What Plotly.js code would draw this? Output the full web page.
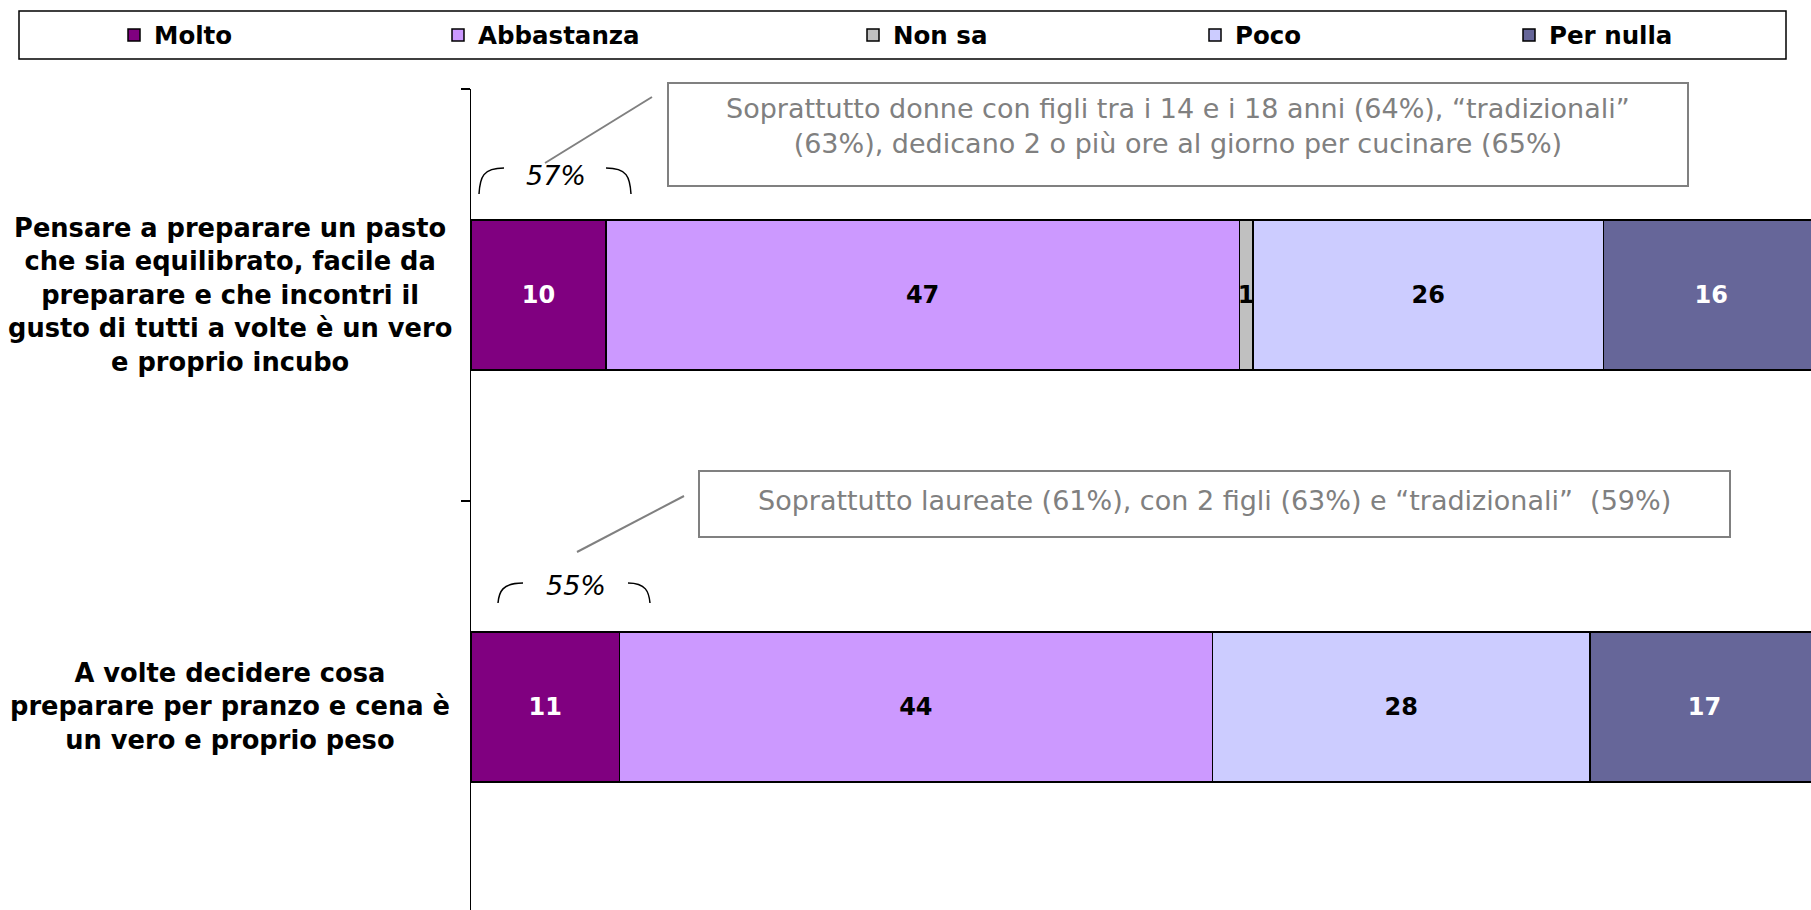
<!DOCTYPE html>
<html>
<head>
<meta charset="utf-8">
<script src="https://cdn.plot.ly/plotly-3.0.1.min.js"></script>
<style>html,body{margin:0;padding:0;background:#fff;}#chart{width:1811px;height:910px;}</style>
</head>
<body>
<div id="chart"></div>
<script>
// ---- data ----
const categories = [
  "Pensare a preparare un pasto<br>che sia equilibrato, facile da<br>preparare e che incontri il<br>gusto di tutti a volte è un vero<br>e proprio incubo",
  "A volte decidere cosa<br>preparare per pranzo e cena è<br>un vero e proprio peso"
];
const seriesNames = ["Molto", "Abbastanza", "Non sa", "Poco", "Per nulla"];
const molto = [10, 11];
const abbastanza = [47, 44];
const nonSa = [1, null];
const poco = [26, 28];
const perNulla = [16, 17];
const topTwo = ["57%", "55%"];
const notes = [
  "Soprattutto donne con figli tra i 14 e i 18 anni (64%), “tradizionali”<br>(63%), dedicano 2 o più ore al giorno per cucinare (65%)",
  "Soprattutto laureate (61%), con 2 figli (63%) e “tradizionali”  (59%)"
];

// ---- styles ----
const colors = ["#800080", "#CC99FF", "#C0C0C0", "#CCCCFF", "#666699"];
const textColors = ["#ffffff", "#000000", "#000000", "#000000", "#ffffff"];
const FONT = "DejaVu Sans";
const W = 1811, H = 910, ML = 471, MT = 89;
const PW = W - ML, PH = H - MT;
const px = p => (p - ML) / PW;
const py = p => (H - p) / PH;

const values = [molto, abbastanza, nonSa, poco, perNulla];
const legendIds = ["legend", "legend2", "legend3", "legend4", "legend5"];
const legendX = [114, 438, 853, 1195, 1509];

const traces = seriesNames.map((name, i) => ({
  type: "bar",
  orientation: "h",
  name: name,
  x: values[i],
  y: categories,
  text: values[i].map(v => (v ? String(v) : "")),
  textposition: "inside",
  insidetextanchor: "middle",
  textangle: 0,
  constraintext: "none",
  textfont: { family: FONT, size: 24, weight: "bold", color: textColors[i] },
  marker: { color: colors[i], line: { color: "#000000", width: 1.5 } },
  legend: legendIds[i],
  hoverinfo: "skip"
}));

const layout = {
  width: W, height: H,
  margin: { l: ML, r: 0, t: MT, b: 0, pad: 0, autoexpand: false },
  paper_bgcolor: "#ffffff",
  plot_bgcolor: "#ffffff",
  barmode: "stack",
  bargap: 0.636,
  showlegend: true,
  font: { family: FONT, color: "#000" },
  xaxis: { visible: false, range: [0, 99.4], fixedrange: true },
  yaxis: {
    type: "category",
    range: [1.493, -0.5],
    showline: true, linecolor: "#000", linewidth: 1.5,
    ticks: "outside", ticklen: 9, tickwidth: 1.5, tickcolor: "#000",
    tickson: "boundaries",
    showticklabels: false, showgrid: false, zeroline: false, fixedrange: true
  },
  shapes: [],
  annotations: []
};

legendIds.forEach((id, i) => {
  layout[id] = {
    orientation: "h",
    x: px(legendX[i]), xanchor: "left",
    y: py(35), yanchor: "middle",
    bgcolor: "rgba(0,0,0,0)", borderwidth: 0,
    font: { family: FONT, size: 24.5, weight: "bold", color: "#000" },
    itemclick: false, itemdoubleclick: false
  };
});

// legend frame
layout.shapes.push({ type: "rect", xref: "paper", yref: "paper",
  x0: px(19), x1: px(1786), y0: py(11), y1: py(59),
  line: { color: "#000", width: 1.5 }, fillcolor: "rgba(0,0,0,0)", layer: "below" });

// note boxes
const boxes = [[668, 1688, 83, 186], [699, 1730, 471, 537]];
boxes.forEach(b => layout.shapes.push({ type: "rect", xref: "paper", yref: "paper",
  x0: px(b[0]), x1: px(b[1]), y0: py(b[2]), y1: py(b[3]),
  line: { color: "#808080", width: 2 }, fillcolor: "#ffffff" }));

// leader lines
const leaders = [[545, 163, 652, 97], [577, 552, 684, 496]];
leaders.forEach(l => layout.shapes.push({ type: "line", xref: "paper", yref: "paper",
  x0: px(l[0]), y0: py(l[1]), x1: px(l[2]), y1: py(l[3]),
  line: { color: "#808080", width: 2 } }));

// brackets
function P(x, y) { return px(x).toFixed(5) + "," + py(y).toFixed(5); }
const brackets = [
  [479, 504, 606, 631, 168, 194],
  [498, 523, 628, 650, 583, 603]
];
brackets.forEach(b => {
  const [a1, a2, c1, c2, top, bot] = b;
  layout.shapes.push({ type: "path", xref: "paper", yref: "paper",
    path: "M" + P(a1, bot) + " C" + P(a1 + 1, top + 9) + " " + P(a1 + 4, top) + " " + P(a2, top),
    line: { color: "#000", width: 1.5 } });
  layout.shapes.push({ type: "path", xref: "paper", yref: "paper",
    path: "M" + P(c1, top) + " C" + P(c2 - 4, top) + " " + P(c2 - 1, top + 9) + " " + P(c2, bot),
    line: { color: "#000", width: 1.5 } });
});

// category labels
categories.forEach(c => layout.annotations.push({
  xref: "paper", yref: "y", x: px(230), y: c, text: c,
  xanchor: "center", yanchor: "middle", align: "center", showarrow: false,
  font: { family: FONT, size: 25.7, weight: "bold", color: "#000" }
}));

// sum labels
const pctPos = [[556, 176], [576, 585]];
topTwo.forEach((t, i) => layout.annotations.push({
  xref: "paper", yref: "paper", x: px(pctPos[i][0]), y: py(pctPos[i][1]), text: t,
  xanchor: "center", yanchor: "middle", showarrow: false,
  font: { family: FONT, size: 27, style: "italic", color: "#000" }
}));

// notes
const notePos = [[1178, 126], [1214, 500]];
notes.forEach((t, i) => layout.annotations.push({
  xref: "paper", yref: "paper", x: px(notePos[i][0]), y: py(notePos[i][1]), text: t,
  xanchor: "center", yanchor: "middle", align: "center", showarrow: false,
  font: { family: FONT, size: 27, color: "#808080" }
}));

Plotly.newPlot("chart", traces, layout, { displayModeBar: false, staticPlot: true });
</script>
</body>
</html>
